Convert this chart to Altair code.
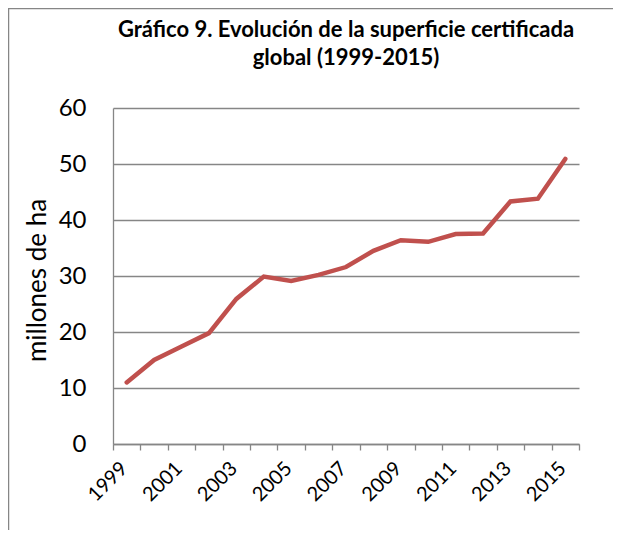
import altair as alt
import pandas as pd

years = list(range(1999, 2016))
values = [11.0, 15.0, 17.4, 19.8, 25.9, 29.9, 29.1, 30.2, 31.6, 34.5, 36.4, 36.1, 37.5, 37.6, 43.3, 43.8, 50.9]

df = pd.DataFrame({"year": years, "value": values})

FONT = "Lato"
GRAY = "#868686"

tick_vals = [y - 0.5 for y in years] + [years[-1] + 0.5]

border = alt.Chart(pd.DataFrame({"a": [0]})).mark_rect(
    fill=None, stroke=GRAY, strokeWidth=1.5
).encode(
    x=alt.value(-104.5), x2=alt.value(700),
    y=alt.value(-99.5), y2=alt.value(600)
)

line = alt.Chart(df).mark_line(color="#C0504D", strokeWidth=4.5, strokeCap="round").encode(
    x=alt.X("year:Q",
            scale=alt.Scale(domain=[1998.5, 2015.5], nice=False, zero=False),
            axis=alt.Axis(values=tick_vals, title=None, grid=False,
                          labelExpr="(datum.value % 2 == 0.5) ? toString(datum.value + 0.5) : ''",
                          labelAngle=-45, labelAlign="right", labelBaseline="middle",
                          labelOffset=11, labelPadding=15,
                          labelFontSize=20, labelFont=FONT, labelColor="black",
                          labelOverlap=False, labelBound=False, labelFlush=False,
                          tickColor=GRAY, tickSize=6, tickWidth=1.3,
                          domainColor=GRAY, domainWidth=1.3)),
    y=alt.Y("value:Q",
            scale=alt.Scale(domain=[0, 60], nice=False),
            axis=alt.Axis(values=[0, 10, 20, 30, 40, 50, 60], title="millones de ha",
                          titleFont=FONT, titleFontSize=26, titleFontWeight="normal",
                          titleColor="black", titleAngle=-90, titleX=-76, titleY=172,
                          titleAlign="center", titleBaseline="middle",
                          labelFontSize=24, labelFont=FONT, labelColor="black",
                          labelPadding=27, ticks=False,
                          gridColor=GRAY, gridWidth=1.3,
                          domainColor=GRAY, domainWidth=1.3))
)

chart = alt.layer(border, line).properties(
    width=466, height=336,
    padding={"left": 105, "top": 100, "right": 34, "bottom": 86},
    autosize=alt.AutoSizeParams(type="none"),
    title=alt.TitleParams(
        text=["Gráfico 9. Evolución de la superficie certificada", "global (1999-2015)"],
        font=FONT, fontSize=22, fontWeight="bold", color="black",
        anchor="middle", lineHeight=28, offset=-62, frame="group"
    )
).configure_view(stroke=None)

chart.save("out.html", embed_options={"renderer": "svg", "actions": False})
